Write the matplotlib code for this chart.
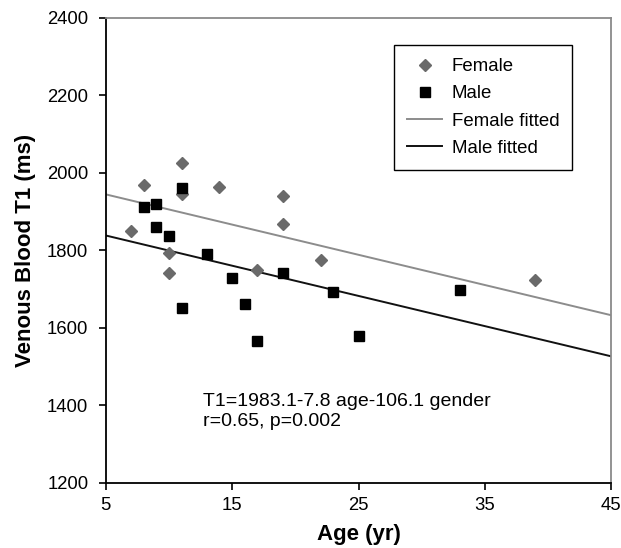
import matplotlib
matplotlib.use("Agg")
import matplotlib.pyplot as plt
import numpy as np

plt.rcParams['font.family'] = ['Liberation Sans', 'DejaVu Sans']

female_age = [7, 8, 10, 10, 11, 11, 14, 17, 19, 19, 22, 39]
female_t1 = [1850, 1969, 1793, 1741, 2026, 1944, 1962, 1748, 1940, 1867, 1774, 1723]
male_age = [8, 9, 9, 10, 11, 11, 13, 15, 16, 17, 19, 23, 25, 33]
male_t1 = [1912, 1919, 1859, 1837, 1961, 1652, 1791, 1728, 1660, 1565, 1740, 1691, 1578, 1697]

# model coefficients: T1 = intercept + slope*age + gender_coef*gender (male=1)
intercept = 1983.1
slope = -7.8
gender_coef = -106.1

x_ticks = [5, 15, 25, 35, 45]
y_ticks = [1200, 1400, 1600, 1800, 2000, 2200, 2400]

fig = plt.figure(figsize=(6.21, 5.48), dpi=100)
ax = fig.add_axes([0.1702, 0.1192, 0.8142, 0.8485])

fit_age = np.array([5, 45])
ax.plot(fit_age, intercept + slope * fit_age, color='#8c8c8c', lw=1.4,
        label='Female fitted', zorder=2)
ax.plot(fit_age, intercept + slope * fit_age + gender_coef, color='#111111', lw=1.4,
        label='Male fitted', zorder=2)
ax.plot(female_age, female_t1, linestyle='none', marker='D', ms=6.6,
        color='#6a6a6a', label='Female', zorder=3)
ax.plot(male_age, male_t1, linestyle='none', marker='s', ms=7.2,
        color='black', label='Male', zorder=3)

ax.set_xlim(5, 45)
ax.set_ylim(1200, 2400)
ax.set_xticks(x_ticks)
ax.set_yticks(y_ticks)
ax.tick_params(axis='both', direction='out', length=5, width=1.2,
               labelsize=13.3, color='black')
ax.tick_params(axis='y', pad=7.5)
ax.tick_params(axis='x', pad=5.5)
for s in ['left', 'bottom']:
    ax.spines[s].set_color('black')
    ax.spines[s].set_linewidth(1.3)
for s in ['top', 'right']:
    ax.spines[s].set_color('#8a8a8a')
    ax.spines[s].set_linewidth(1.3)

ax.set_xlabel('Age (yr)', fontsize=16, fontweight='bold', labelpad=7)
ax.set_ylabel('Venous Blood T1 (ms)', fontsize=16, fontweight='bold', labelpad=8)

ax.text(12.7, 1432, 'T1=1983.1-7.8 age-106.1 gender\nr=0.65, p=0.002',
        fontsize=14, va='top', ha='left', linespacing=1.25)

handles, labels = ax.get_legend_handles_labels()
order = [2, 3, 0, 1]
leg = ax.legend([handles[i] for i in order], [labels[i] for i in order],
                loc='upper left', bbox_to_anchor=(0.570, 0.941), fontsize=13.4,
                frameon=True, fancybox=False, framealpha=1, edgecolor='black',
                handlelength=1.9, handletextpad=0.5, borderpad=0.7,
                labelspacing=0.55, borderaxespad=0)
leg.get_frame().set_linewidth(1.0)

fig.savefig('out.png', dpi=100)
